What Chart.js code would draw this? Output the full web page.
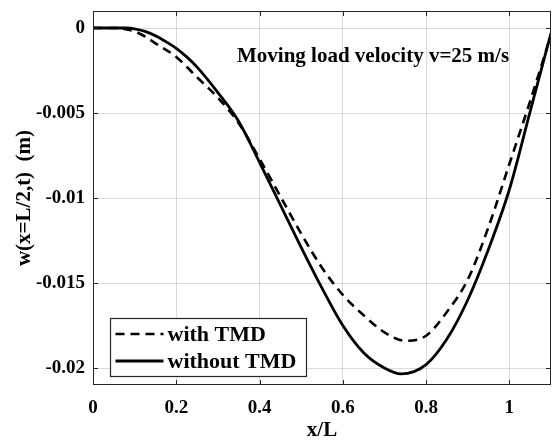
<!DOCTYPE html>
<html>
<head>
<meta charset="utf-8">
<script src="https://cdn.jsdelivr.net/npm/chart.js@4"></script>
<style>
  html, body { margin: 0; padding: 0; background: #fff; }
  #wrap { width: 553px; height: 441px; }
</style>
</head>
<body>
<div id="wrap"><canvas id="chart" width="553" height="441"></canvas></div>
<script>
// x/L positions and midspan deflections
const xPos = [0, 0.05, 0.08, 0.1, 0.125, 0.15, 0.175, 0.2, 0.225, 0.25, 0.3, 0.35, 0.4, 0.45, 0.5, 0.55, 0.6, 0.65, 0.7, 0.74, 0.8, 0.85, 0.9, 0.95, 1.0, 1.05, 1.1];
const withoutTMD = [0, 0, 0, -0.00005, -0.0002, -0.00045, -0.0008, -0.0012, -0.0017, -0.0023, -0.0038, -0.0055, -0.0079, -0.0104, -0.0129, -0.0153, -0.0175, -0.0191, -0.0200, -0.02035, -0.0198, -0.0183, -0.0160, -0.0130, -0.0095, -0.0049, -0.0003];

const xPosTMD = [0, 0.05, 0.075, 0.1, 0.125, 0.15, 0.2, 0.25, 0.3, 0.35, 0.4, 0.45, 0.5, 0.55, 0.6, 0.65, 0.7, 0.75, 0.8, 0.85, 0.9, 0.95, 1.0, 1.05, 1.1];
const withTMD = [0, 0, -0.00005, -0.0002, -0.0005, -0.0009, -0.0017, -0.0029, -0.0041, -0.0056, -0.0077, -0.0099, -0.0121, -0.0141, -0.0157, -0.0169, -0.0179, -0.0184, -0.0181, -0.0167, -0.0148, -0.0117, -0.0080, -0.0043, -0.0004];

const xTicks = [0, 0.2, 0.4, 0.6, 0.8, 1];
const yTicks = [0, -0.005, -0.01, -0.015, -0.02];

const FONT = '"Liberation Serif", "Times New Roman", serif';
const INK = '#000000';
const AXIS = '#262626';

function toPoints(xs, ys) {
    return xs.map((x, i) => ({ x: x, y: ys[i] }));
}

// MATLAB-like box with inward tick marks, annotation and legend
const boxPlugin = {
    id: 'box',
    afterDraw(chart) {
        const ctx = chart.ctx;
        const a = chart.chartArea;
        const sx = chart.scales.x, sy = chart.scales.y;
        ctx.save();
        ctx.strokeStyle = AXIS;
        ctx.lineWidth = 1;
        ctx.strokeRect(a.left + 0.5, a.top + 0.5, a.right - a.left - 1, a.bottom - a.top - 1);
        ctx.beginPath();
        xTicks.forEach(v => {
            const px = Math.round(sx.getPixelForValue(v)) + 0.5;
            ctx.moveTo(px, a.bottom); ctx.lineTo(px, a.bottom - 5);
            ctx.moveTo(px, a.top); ctx.lineTo(px, a.top + 5);
        });
        yTicks.forEach(v => {
            const py = Math.round(sy.getPixelForValue(v)) + 0.5;
            ctx.moveTo(a.left, py); ctx.lineTo(a.left + 5, py);
            ctx.moveTo(a.right, py); ctx.lineTo(a.right - 5, py);
        });
        ctx.stroke();

        // annotation
        ctx.fillStyle = INK;
        ctx.font = 'bold 21px ' + FONT;
        ctx.textAlign = 'left';
        ctx.textBaseline = 'alphabetic';
        ctx.fillText('Moving load velocity v=25 m/s', 237, 62);

        // legend box
        const lx = 110.5, ly = 318.5, lw = 196, lh = 58;
        ctx.fillStyle = '#ffffff';
        ctx.fillRect(lx, ly, lw, lh);
        ctx.strokeStyle = AXIS;
        ctx.lineWidth = 1.2;
        ctx.strokeRect(lx, ly, lw, lh);
        chart.data.datasets.forEach((ds, i) => {
            const yy = ly + 15.5 + i * 27;
            ctx.beginPath();
            ctx.strokeStyle = ds.borderColor;
            ctx.lineWidth = ds.borderWidth;
            ctx.setLineDash(ds.borderDash || []);
            ctx.moveTo(lx + 5, yy); ctx.lineTo(lx + 53, yy);
            ctx.stroke();
            ctx.setLineDash([]);
            ctx.fillStyle = INK;
            ctx.font = 'bold 22px ' + FONT;
            ctx.textBaseline = 'middle';
            ctx.fillText(ds.label, lx + 57, yy + 1);
        });
        ctx.restore();
    }
};

const bgPlugin = {
    id: 'bg',
    beforeDraw(chart) {
        const ctx = chart.ctx;
        ctx.save();
        ctx.fillStyle = '#ffffff';
        ctx.fillRect(0, 0, chart.width, chart.height);
        ctx.restore();
    }
};

new Chart(document.getElementById('chart'), {
    type: 'scatter',
    data: {
        datasets: [
            {
                label: 'with TMD',
                data: toPoints(xPosTMD, withTMD),
                showLine: true,
                borderColor: INK,
                borderWidth: 2.6,
                borderDash: [9, 6],
                pointRadius: 0,
                cubicInterpolationMode: 'monotone'
            },
            {
                label: 'without TMD',
                data: toPoints(xPos, withoutTMD),
                showLine: true,
                borderColor: INK,
                borderWidth: 2.8,
                pointRadius: 0,
                cubicInterpolationMode: 'monotone'
            }
        ]
    },
    options: {
        responsive: false,
        animation: false,
        layout: { padding: { top: 11, right: 2, left: 0, bottom: 0 } },
        plugins: {
            legend: { display: false },
            tooltip: { enabled: false }
        },
        scales: {
            x: {
                type: 'linear',
                min: 0,
                max: 1.1,
                afterBuildTicks: scale => { scale.ticks = xTicks.map(v => ({ value: v })); },
                afterFit: scale => {
                    scale.height = 56;
                    scale.paddingLeft = 0;
                    scale.paddingRight = 0;
                },
                grid: { color: 'rgba(0,0,0,0.14)', drawTicks: false },
                border: { display: false },
                ticks: {
                    color: INK,
                    padding: 12,
                    maxRotation: 0,
                    font: { family: FONT, size: 19, weight: 'bold' },
                    callback: v => String(v)
                },
                title: {
                    display: true,
                    text: 'x/L',
                    color: INK,
                    padding: { top: 0, bottom: 0 },
                    font: { family: FONT, size: 21, weight: 'bold', lineHeight: 1 }
                }
            },
            y: {
                type: 'linear',
                min: -0.021,
                max: 0.001,
                afterBuildTicks: scale => { scale.ticks = yTicks.map(v => ({ value: v })); },
                afterFit: scale => {
                    scale.width = 93;
                    scale.paddingTop = 0;
                    scale.paddingBottom = 0;
                },
                grid: { color: 'rgba(0,0,0,0.14)', drawTicks: false },
                border: { display: false },
                ticks: {
                    color: INK,
                    padding: 8,
                    font: { family: FONT, size: 19, weight: 'bold' },
                    callback: v => String(v)
                },
                title: {
                    display: true,
                    text: 'w(x=L/2,t)  (m)',
                    color: INK,
                    padding: { top: 14, bottom: 0 },
                    font: { family: FONT, size: 21, weight: 'bold', lineHeight: 1 }
                }
            }
        }
    },
    plugins: [bgPlugin, boxPlugin]
});
</script>
</body>
</html>
